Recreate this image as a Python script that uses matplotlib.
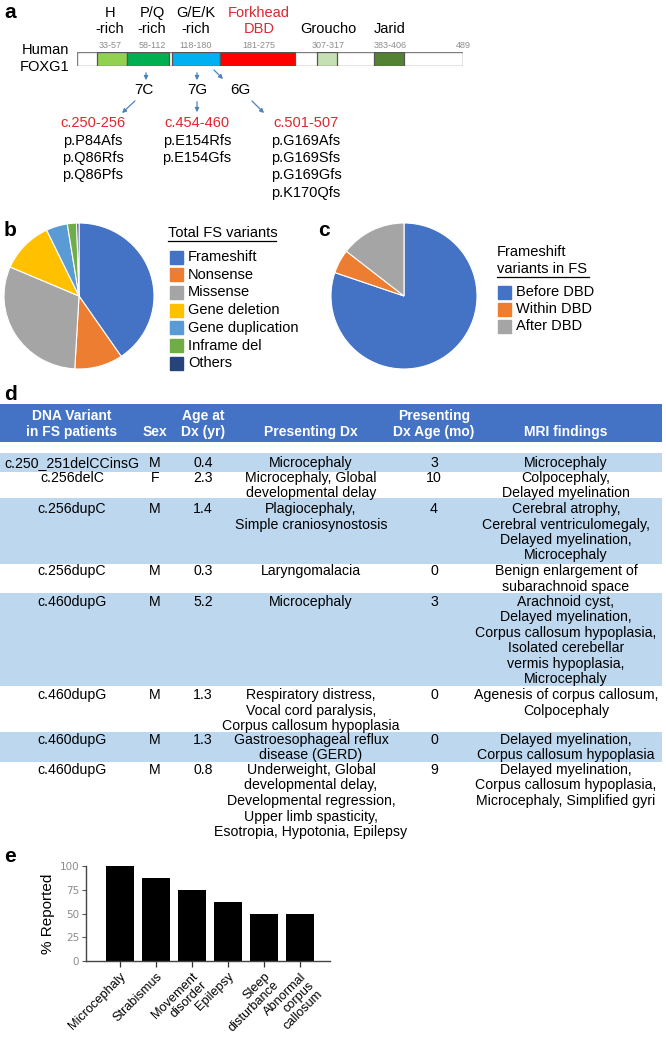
import matplotlib
matplotlib.use("Agg")
import matplotlib.pyplot as plt

W, H = 666, 1049
NARROW = ['Liberation Sans Narrow', 'Liberation Sans', 'DejaVu Sans']
SANS = ['Liberation Sans', 'DejaVu Sans']

# ---- panel a: FOXG1 domains ----
protein_len = 489
domain_names = ['H\n-rich', 'P/Q\n-rich', 'G/E/K\n-rich', 'Forkhead\nDBD', 'Groucho', 'Jarid']
domain_ranges = ['33-57', '58-112', '118-180', '181-275', '307-317', '383-406']
domain_start = [25, 63, 120, 181, 304, 376]   # drawn extents (aa)
domain_end = [63, 116, 181, 276, 329, 414]
domain_colors = ['#92D050', '#00B050', '#00B0F0', '#FF0000', '#C5E0B4', '#548235']
hotspots = ['7C', '7G', '6G']
cdna = ['c.250-256', 'c.454-460', 'c.501-507']
protein_changes = [['p.P84Afs', 'p.Q86Rfs', 'p.Q86Pfs'],
                   ['p.E154Rfs', 'p.E154Gfs'],
                   ['p.G169Afs', 'p.G169Sfs', 'p.G169Gfs', 'p.K170Qfs']]

# ---- panel b / c: pies ----
fs_labels = ['Frameshift', 'Nonsense', 'Missense', 'Gene deletion',
             'Gene duplication', 'Inframe del', 'Others']
fs_values = [40.5, 10.4, 30.6, 11.4, 4.6, 2.0, 0.5]
fs_colors = ['#4472C4', '#ED7D31', '#A5A5A5', '#FFC000', '#5B9BD5', '#70AD47', '#264478']
dbd_labels = ['Before DBD', 'Within DBD', 'After DBD']
dbd_values = [80.2, 5.3, 14.5]
dbd_colors = ['#4472C4', '#ED7D31', '#A5A5A5']

# ---- panel d: table ----
headers = ['DNA Variant\nin FS patients', 'Sex', 'Age at\nDx (yr)', 'Presenting Dx',
           'Presenting\nDx Age (mo)', 'MRI findings']
variants = ['c.250_251delCCinsG', 'c.256delC', 'c.256dupC', 'c.256dupC',
            'c.460dupG', 'c.460dupG', 'c.460dupG', 'c.460dupG']
sex = ['M', 'F', 'M', 'M', 'M', 'M', 'M', 'M']
age_yr = [0.4, 2.3, 1.4, 0.3, 5.2, 1.3, 1.3, 0.8]
presenting_dx = ['Microcephaly',
                 'Microcephaly, Global\ndevelopmental delay',
                 'Plagiocephaly,\nSimple craniosynostosis',
                 'Laryngomalacia',
                 'Microcephaly',
                 'Respiratory distress,\nVocal cord paralysis,\nCorpus callosum hypoplasia',
                 'Gastroesophageal reflux\ndisease (GERD)',
                 'Underweight, Global\ndevelopmental delay,\nDevelopmental regression,\n'
                 'Upper limb spasticity,\nEsotropia, Hypotonia, Epilepsy']
dx_age_mo = [3, 10, 4, 0, 3, 0, 0, 9]
mri = ['Microcephaly',
       'Colpocephaly,\nDelayed myelination',
       'Cerebral atrophy,\nCerebral ventriculomegaly,\nDelayed myelination,\nMicrocephaly',
       'Benign enlargement of\nsubarachnoid space',
       'Arachnoid cyst,\nDelayed myelination,\nCorpus callosum hypoplasia,\n'
       'Isolated cerebellar\nvermis hypoplasia,\nMicrocephaly',
       'Agenesis of corpus callosum,\nColpocephaly',
       'Delayed myelination,\nCorpus callosum hypoplasia',
       'Delayed myelination,\nCorpus callosum hypoplasia,\nMicrocephaly, Simplified gyri']

# ---- panel e: bars ----
features = ['Microcephaly', 'Strabismus', 'Movement\ndisorder', 'Epilepsy',
            'Sleep\ndisturbance', 'Abnormal\ncorpus\ncallosum']
pct_reported = [100, 87.5, 75, 62.5, 50, 50]


def px_axes(fig, x0, y0, x1, y1, **kw):
    return fig.add_axes([x0 / W, 1 - y1 / H, (x1 - x0) / W, (y1 - y0) / H], **kw)


fig = plt.figure(figsize=(W / 100, H / 100), dpi=100)
ov = px_axes(fig, 0, 0, W, H)
ov.set_xlim(0, W)
ov.set_ylim(H, 0)
ov.axis('off')

# panel letters
for letter, (lx, ly) in zip('abcde', [(4, 13), (4, 230), (318, 230), (4, 394), (4, 857)]):
    ov.text(lx, ly, letter, fontsize=15, fontweight='bold', family=SANS, va='center')

# ---- panel a ----
ax_a = px_axes(fig, 77, 52, 463, 66)
ax_a.set_xlim(0, protein_len)
ax_a.set_ylim(0, 1)
ax_a.axis('off')
ax_a.barh(0.5, protein_len, height=1, left=0, color='white', edgecolor='#7F7F7F', lw=1)
for s, e, c in zip(domain_start, domain_end, domain_colors):
    ax_a.barh(0.5, e - s, height=1, left=s, color=c, edgecolor='#555555', lw=0.9)

name_x = [110, 152, 196, 259, 328, 390]
for name, rng, nx in zip(domain_names, domain_ranges, name_x):
    col = '#E0262E' if 'DBD' in name else 'black'
    lines = name.split('\n')
    if len(lines) == 1:
        lines = ['', lines[0]]
    ov.text(nx, 13, lines[0], ha='center', va='center', fontsize=10.5, family=NARROW, color=col)
    ov.text(nx, 29, lines[1], ha='center', va='center', fontsize=10.5, family=NARROW, color=col)
    ov.text(nx, 45, rng, ha='center', va='center', fontsize=6.5, family=NARROW, color='#8C8C8C')
ov.text(463, 45, str(protein_len), ha='center', va='center', fontsize=6.5, family=NARROW, color='#8C8C8C')
ov.text(45, 50, 'Human', ha='center', va='center', fontsize=10.5, family=NARROW)
ov.text(45, 67, 'FOXG1', ha='center', va='center', fontsize=10.5, family=NARROW)

arrow_kw = dict(arrowstyle='-|>', color='#4F81BD', lw=0.9, mutation_scale=6)
for (x0, y0, x1, y1) in [(146, 70, 146, 83), (197, 70, 197, 83), (212, 68, 225, 81),
                         (137, 99, 120, 115), (197, 99, 197, 115), (250, 99, 266, 115)]:
    ov.annotate('', xy=(x1, y1), xytext=(x0, y0), arrowprops=arrow_kw)

for hs, hx in zip(hotspots, [144, 197, 240]):
    ov.text(hx, 90, hs, ha='center', va='center', fontsize=11, family=NARROW)
for cd, plist, cx in zip(cdna, protein_changes, [93, 197, 306]):
    ov.text(cx, 123, cd, ha='center', va='center', fontsize=10.5, family=NARROW, color='#E0262E')
    for i, p in enumerate(plist):
        ov.text(cx, 140.5 + i * 17.5, p, ha='center', va='center', fontsize=10.5, family=NARROW)

# ---- panel b ----
ax_b = px_axes(fig, 4, 223, 154, 369)
ax_b.pie(fs_values, colors=fs_colors, startangle=90, counterclock=False,
         wedgeprops=dict(edgecolor='white', linewidth=0.8))
ax_b.set_aspect('auto')
ax_b.set_xlim(-1, 1)
ax_b.set_ylim(-1, 1)

ov.text(168, 233, 'Total FS variants', ha='left', va='center', fontsize=10.5, family=NARROW)
ov.plot([168, 276], [241, 241], color='black', lw=0.9)
for i, (lab, col) in enumerate(zip(fs_labels, fs_colors)):
    yy = 257 + i * 17.7
    ov.add_patch(plt.Rectangle((170, yy - 6.5), 13, 13, color=col))
    ov.text(188, yy, lab, ha='left', va='center', fontsize=10.5, family=NARROW)

# ---- panel c ----
ax_c = px_axes(fig, 331, 223, 477, 369)
ax_c.pie(dbd_values, colors=dbd_colors, startangle=90, counterclock=False,
         wedgeprops=dict(edgecolor='white', linewidth=0.8))
ax_c.set_aspect('auto')
ax_c.set_xlim(-1, 1)
ax_c.set_ylim(-1, 1)

ov.text(497, 252, 'Frameshift', ha='left', va='center', fontsize=10.5, family=NARROW)
ov.text(497, 269, 'variants in FS', ha='left', va='center', fontsize=10.5, family=NARROW)
ov.plot([497, 589], [277, 277], color='black', lw=0.9)
for i, (lab, col) in enumerate(zip(dbd_labels, dbd_colors)):
    yy = 292 + i * 17.2
    ov.add_patch(plt.Rectangle((498, yy - 6.5), 13, 13, color=col))
    ov.text(516, yy, lab, ha='left', va='center', fontsize=10.5, family=NARROW)

# ---- panel d: table ----
col_x = [72, 155, 203, 311, 434, 566]
ov.add_patch(plt.Rectangle((0, 404), 662, 38, color='#4472C4', lw=0))
for hd, cx in zip(headers, col_x):
    lines = hd.split('\n')
    if len(lines) == 1:
        lines = ['', lines[0]]
    for i, ln in enumerate(lines):
        ov.text(cx, 416 + i * 16, ln, ha='center', va='center', fontsize=10,
                family=NARROW, color='white', fontweight='bold')

row_top = [453, 472, 498, 564, 593, 686, 732, 762]
row_bot = [472, 498, 564, 593, 686, 732, 762, 845]
text_y = [463, 478, 509, 571, 602, 695, 740, 770]
line_h = 15.5
for r in range(len(variants)):
    if r % 2 == 0:
        ov.add_patch(plt.Rectangle((0, row_top[r]), 662, row_bot[r] - row_top[r],
                                   color='#BDD7EE', lw=0))
    cells = [variants[r], sex[r], f'{age_yr[r]:.1f}', presenting_dx[r],
             str(dx_age_mo[r]), mri[r]]
    for cell, cx in zip(cells, col_x):
        for i, ln in enumerate(cell.split('\n')):
            ov.text(cx, text_y[r] + i * line_h, ln, ha='center', va='center',
                    fontsize=10.2, family=NARROW)

# ---- panel e ----
ax_e = px_axes(fig, 86, 866, 330, 961)
xpos = list(range(len(features)))
ax_e.bar(xpos, pct_reported, width=0.79, color='black')
ax_e.set_xlim(-0.944, 5.833)
ax_e.set_ylim(0, 100)
ax_e.set_yticks([0, 25, 50, 75, 100])
ax_e.set_xticks(xpos)
ax_e.set_xticklabels(features, fontsize=9.2, family=NARROW)
for lab in ax_e.get_xticklabels():
    lab.set_rotation(45)
    lab.set_rotation_mode('anchor')
    lab.set_horizontalalignment('right')
    lab.set_verticalalignment('top')
    lab.set_multialignment('right')
    lab.set_linespacing(1.0)
ax_e.tick_params(axis='y', labelsize=7.5, labelcolor='#8C8C8C', color='#555555',
                 length=3, width=0.8, pad=2)
ax_e.tick_params(axis='x', color='#333333', length=4, width=0.9, pad=3)
for sp in ['top', 'right']:
    ax_e.spines[sp].set_visible(False)
for sp in ['left', 'bottom']:
    ax_e.spines[sp].set_color('#444444')
    ax_e.spines[sp].set_linewidth(1)
ax_e.set_ylabel('% Reported', fontsize=11, family=NARROW, labelpad=3)

fig.savefig('out.png', dpi=100)
